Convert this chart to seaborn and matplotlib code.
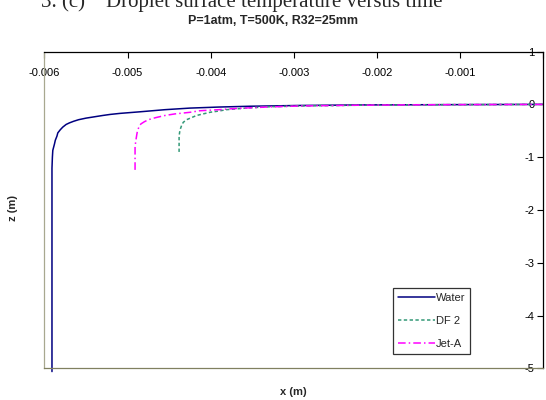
import pandas as pd
import matplotlib
matplotlib.use("Agg")
import matplotlib.pyplot as plt
import seaborn as sns

# droplet trajectories, x (m) vs z (m)
water_x = [-0.00591, -0.00591, -0.005905, -0.00590, -0.00588, -0.00587, -0.00585,
           -0.00584, -0.00581, -0.00578, -0.00574, -0.00570, -0.00565, -0.00559,
           -0.00550, -0.00542, -0.00530, -0.00521, -0.00509, -0.00485, -0.00455,
           -0.00425, -0.00390, -0.00353, -0.00293, -0.0022, -0.0012, 0.0]
water_z = [-5.06, -1.21, -1.00, -0.87, -0.75, -0.68, -0.60,
           -0.54, -0.48, -0.43, -0.38, -0.35, -0.32, -0.29,
           -0.26, -0.24, -0.21, -0.19, -0.17, -0.14, -0.10,
           -0.07, -0.05, -0.035, -0.02, -0.01, -0.005, 0.0]

df2_x = [-0.00438, -0.00438, -0.00437, -0.00435, -0.00433, -0.00429, -0.00423,
         -0.00417, -0.00409, -0.00401, -0.00390, -0.00381, -0.00365, -0.00353,
         -0.00329, -0.00293, -0.0022, -0.0012, 0.0]
df2_z = [-0.90, -0.60, -0.49, -0.40, -0.34, -0.29, -0.25,
         -0.21, -0.18, -0.15, -0.125, -0.10, -0.08, -0.065,
         -0.045, -0.03, -0.015, -0.005, 0.0]

jeta_x = [-0.00491, -0.00491, -0.00490, -0.00489, -0.00488, -0.00486, -0.00484,
          -0.00480, -0.00475, -0.00466, -0.00455, -0.00443, -0.00425, -0.00413,
          -0.00390, -0.00373, -0.00333, -0.00293, -0.0022, -0.0012, 0.0]
jeta_z = [-1.24, -0.80, -0.68, -0.58, -0.49, -0.42, -0.37,
          -0.33, -0.29, -0.25, -0.21, -0.18, -0.15, -0.12,
          -0.10, -0.08, -0.05, -0.03, -0.015, -0.005, 0.0]

x_ticks = [-0.006, -0.005, -0.004, -0.003, -0.002, -0.001, 0.0]
x_ticklabels = ["-0.006", "-0.005", "-0.004", "-0.003", "-0.002", "-0.001", ""]
y_ticks = [-5, -4, -3, -2, -1, 0, 1]

sns.set_style("white")
plt.rcParams['font.family'] = ['Liberation Sans', 'DejaVu Sans']

fig = plt.figure(figsize=(5.46, 4.0), dpi=100)
ax = fig.add_axes([0.0815, 0.079, 0.913, 0.792])

series = [
    ("Water", water_x, water_z, "#000080", "-"),
    ("DF 2", df2_x, df2_z, "#339977", (0, (2.2, 1.6))),
    ("Jet-A", jeta_x, jeta_z, "#FF00FF", (0, (5, 2, 1, 2))),
]
for name, xs, zs, col, ls in series:
    d = pd.DataFrame({"x": xs, "z": zs})
    sns.lineplot(data=d, x="x", y="z", sort=False, estimator=None, ax=ax,
                 color=col, linestyle=ls, linewidth=1.1, label=name)
ax.lines[0].set_clip_on(False)

ax.set_xlim(-0.006, 0)
ax.set_ylim(-5, 1)
ax.set_xticks(x_ticks)
ax.set_xticklabels(x_ticklabels)
ax.set_yticks(y_ticks)
ax.set_yticklabels([str(v) for v in y_ticks])
ax.set_xlabel("")
ax.set_ylabel("")

ax.xaxis.tick_top()
ax.yaxis.tick_right()
ax.tick_params(axis='x', direction='in', length=4, width=0.8, pad=-19,
               labelsize=8, colors='black')
ax.tick_params(axis='y', direction='in', length=4, width=0.8, pad=-6,
               labelsize=8, colors='black')
plt.setp(ax.get_yticklabels(), ha='right')

for s in ["top", "right"]:
    ax.spines[s].set_color("black")
    ax.spines[s].set_linewidth(0.9)
ax.spines["left"].set_color("#a8a890")
ax.spines["bottom"].set_color("#808060")
ax.spines["left"].set_linewidth(0.9)
ax.spines["bottom"].set_linewidth(0.9)

leg = ax.legend(loc="lower left", bbox_to_anchor=(0.699, 0.047), fontsize=8,
                frameon=True, fancybox=False, edgecolor="black",
                handlelength=3.3, handletextpad=0.1, borderpad=0.45,
                labelspacing=1.15, borderaxespad=0)
leg.get_frame().set_linewidth(0.9)

fig.text(0.50, 1 - 21 / 400, "P=1atm, T=500K, R32=25mm", ha="center",
         va="center", fontsize=9, fontweight="bold")
# caption of the page, cut off by the top edge in the source image
fig.text(0.075, 1 - 7 / 400, "3. (c)    Droplet surface temperature versus time",
         ha="left", va="baseline", fontsize=15, family="Liberation Serif")
fig.text(0.538, 1 - 392 / 400, "x (m)", ha="center", va="center",
         fontsize=8, fontweight="bold")
fig.text(0.024, 1 - 208 / 400, "z (m)", ha="center", va="center",
         fontsize=8, fontweight="bold", rotation=90)

fig.savefig("out.png", dpi=100)
